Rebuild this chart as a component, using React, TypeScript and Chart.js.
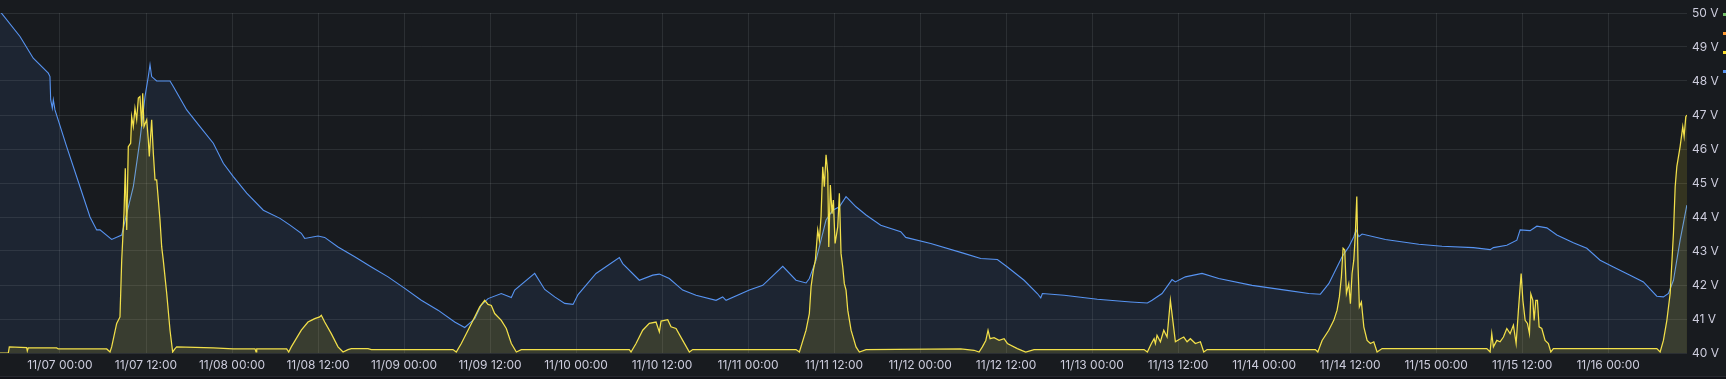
import React, { useEffect, useRef } from "react";
import { Chart, registerables } from "chart.js";

Chart.register(...registerables);

// Time in hours relative to 11/07 00:00
const X_MIN = -8.37;
const X_MAX = 227.0;
const Y_MIN = 40;
const Y_MAX = 50;

const TICK_HOURS = [0, 12, 24, 36, 48, 60, 72, 84, 96, 108, 120, 132, 144, 156, 168, 180, 192, 204, 216];
const TICK_LABELS = [
  "11/07 00:00", "11/07 12:00", "11/08 00:00", "11/08 12:00", "11/09 00:00", "11/09 12:00",
  "11/10 00:00", "11/10 12:00", "11/11 00:00", "11/11 12:00", "11/12 00:00", "11/12 12:00",
  "11/13 00:00", "11/13 12:00", "11/14 00:00", "11/14 12:00", "11/15 00:00", "11/15 12:00",
  "11/16 00:00",
];
const Y_TICKS = [40, 41, 42, 43, 44, 45, 46, 47, 48, 49, 50];

// Battery voltage (blue)
const BLUE_T = [
  -8.37, -5.58, -3.73, -1.63, -1.40, -1.30, -1.07, -0.93, -0.70, 0.93, 2.79, 4.19, 5.12, 5.58, 7.21, 8.61,
  9.31, 10.23, 11.16, 11.86, 12.32, 12.56, 12.79, 13.49, 15.35, 15.81, 17.68, 19.53, 21.39, 22.79, 24.18,
  26.05, 28.37, 30.70, 32.09, 33.67, 34.14, 36.0, 36.93, 38.79, 41.12, 43.44, 45.77, 48.10, 50.41, 52.74,
  55.07, 56.47, 57.17, 57.86, 58.78, 59.72, 61.57, 62.97, 63.44, 66.23, 67.63, 69.02, 70.42, 71.58, 72.28,
  74.79, 78.04, 78.51, 80.83, 82.70, 83.62, 85.01, 86.88, 88.74, 91.53, 92.46, 92.93, 96.18, 98.05, 100.84,
  102.69, 104.09, 104.55, 105.48, 106.88, 107.82, 108.74, 109.67, 111.06, 112.46, 114.51, 117.30, 118.0,
  121.49, 126.13, 128.46, 130.78, 132.18, 134.51, 136.36, 136.84, 137.06, 140.09, 144.73, 149.39, 151.71,
  152.37, 153.76, 155.15, 155.61, 157.01, 159.34, 161.67, 166.32, 170.96, 174.23, 175.85, 177.02, 178.88,
  179.81, 180.51, 180.83, 181.21, 181.67, 184.92, 189.58, 192.83, 197.20, 199.53, 199.99, 201.86, 203.26,
  203.72, 205.11, 206.05, 207.44, 208.84, 211.15, 213.02, 214.88, 216.73, 219.06, 220.92, 222.79, 223.71,
  224.41, 225.11, 226.04, 226.98,
];
const BLUE_V = [
  50.05, 49.31, 48.67, 48.23, 48.13, 47.45, 47.2, 47.45, 47.15, 46.07, 44.89, 44.0, 43.62, 43.62, 43.34, 43.47,
  44.1, 44.89, 46.27, 47.54, 48.13, 48.48, 48.13, 48.0, 48.0, 47.84, 47.15, 46.66, 46.17, 45.58, 45.19,
  44.7, 44.2, 43.96, 43.76, 43.52, 43.37, 43.44, 43.4, 43.12, 42.83, 42.53, 42.24, 41.9, 41.55, 41.26,
  40.91, 40.75, 40.88, 41.01, 41.41, 41.6, 41.75, 41.63, 41.85, 42.34, 41.87, 41.65, 41.46, 41.43, 41.72,
  42.34, 42.81, 42.63, 42.14, 42.29, 42.32, 42.19, 41.85, 41.7, 41.55, 41.65, 41.55, 41.85, 41.99, 42.55,
  42.14, 42.06, 42.19, 42.73, 43.91, 44.2, 44.3, 44.6, 44.3, 44.06, 43.76, 43.57, 43.4,
  43.22, 42.93, 42.78, 42.75, 42.53, 42.14, 41.75, 41.62, 41.75, 41.7, 41.58, 41.5, 41.47,
  41.55, 41.75, 42.16, 42.09, 42.24, 42.34, 42.19, 41.99, 41.85, 41.75, 41.73, 42.04, 42.83,
  43.12, 43.42, 43.62, 43.42, 43.5, 43.34, 43.2, 43.14, 43.1, 43.04, 43.1, 43.17, 43.32,
  43.62, 43.6, 43.73, 43.68, 43.47, 43.24, 43.08, 42.73, 42.53, 42.29, 42.09, 41.67, 41.65,
  41.75, 42.14, 43.32, 44.35,
];

// PV voltage (yellow)
const YELLOW_T = [
  -8.37, -7.21, -7.07, -4.65, -4.56, -4.42, -0.46, -0.24, 6.52, 6.98, 7.21, 7.91, 8.37, 8.61, 8.93, 9.11,
  9.31, 9.53, 9.86, 10.0, 10.23, 10.46, 10.70, 10.93, 11.16, 11.40, 11.54, 11.72, 12.10, 12.32, 12.46,
  12.79, 13.02, 13.26, 13.49, 13.95, 14.19, 14.41, 14.89, 15.35, 15.72, 16.05, 16.28, 21.39, 24.18, 27.21,
  27.35, 27.45, 31.63, 31.91, 32.27, 33.67, 34.60, 35.06, 35.54, 36.23, 36.46, 36.93, 37.85, 38.79, 39.49,
  40.18, 40.65, 42.98, 43.44, 54.83, 55.29, 55.99, 56.93, 57.86, 58.56, 59.26, 59.72, 60.18, 60.65, 61.57,
  62.27, 62.97, 63.67, 64.36, 79.43, 79.67, 80.37, 81.30, 82.22, 83.16, 83.62, 83.86, 84.79, 85.25, 85.95,
  86.88, 87.81, 88.28, 102.69, 103.16, 104.09, 104.55, 104.79, 105.11, 105.39, 105.72, 105.95, 106.18,
  106.42, 106.64, 106.88, 107.12, 107.26, 107.48, 107.72, 107.90, 108.14, 108.51, 108.74, 108.97, 109.21,
  109.43, 109.67, 109.91, 110.37, 111.06, 111.53, 112.46, 125.67, 127.53, 128.23, 128.69, 129.17, 129.48,
  129.76, 130.32, 131.02, 131.72, 132.18, 133.57, 134.74, 135.90, 151.25, 151.71, 152.27, 152.65, 152.83,
  153.06, 153.53, 154.0, 154.46, 154.92, 155.26, 155.62, 156.32, 156.79, 157.25, 157.71, 158.41, 159.11,
  159.58, 160.04, 175.15, 175.49, 176.09, 177.02, 177.72, 178.18, 178.50, 178.78, 179.02, 179.25, 179.48,
  179.81, 180.04, 180.27, 180.51, 180.73, 180.93, 181.11, 181.29, 181.57, 181.91, 182.37, 182.83, 183.30,
  183.76, 184.46, 199.07, 199.53, 199.76, 199.99, 200.47, 200.92, 201.39, 201.86, 202.32, 202.78, 203.16,
  203.48, 203.86, 204.10, 204.42, 204.74, 205.02, 205.21, 205.49, 205.67, 205.91, 206.13, 206.37, 206.74,
  207.20, 207.66, 208.0, 208.36, 222.79, 223.25, 223.71, 224.19, 224.65, 225.11, 225.35, 225.58, 226.04,
  226.41, 226.60, 226.83, 227.0,
];
const YELLOW_V = [
  40.0, 40.0, 40.18, 40.16, 40.06, 40.15, 40.15, 40.12, 40.12, 40.03, 40.18, 40.87, 41.06, 42.73, 44.1, 45.43,
  43.62, 46.07, 46.17, 46.95, 46.66, 47.2, 46.86, 47.5, 47.54, 46.66, 47.64, 46.66, 46.86, 46.27, 45.78,
  46.86, 45.88, 45.09, 45.09, 43.91, 43.12, 42.73, 41.75, 40.67, 40.03, 40.13, 40.18, 40.15, 40.12, 40.12,
  40.03, 40.12, 40.12, 40.03, 40.18, 40.67, 40.91, 40.96, 41.01, 41.06, 41.11, 40.91, 40.57, 40.18, 40.03,
  40.1, 40.13, 40.13, 40.1, 40.1, 40.03, 40.28, 40.67, 41.06, 41.36, 41.55, 41.43, 41.4, 41.16, 40.96,
  40.72, 40.28, 40.03, 40.1, 40.1, 40.03, 40.28, 40.67, 40.87, 40.91, 40.62, 40.94, 40.98, 40.77, 40.72,
  40.37, 40.03, 40.1, 40.1, 40.03, 40.67, 41.16, 41.95, 42.44, 42.73, 43.62, 43.32, 44.01,
  45.48, 44.89, 45.83, 45.29, 43.12, 44.94, 44.1, 44.5, 43.22, 43.71, 44.7, 42.93, 42.53,
  42.04, 41.85, 41.26, 40.67, 40.18, 40.03, 40.1, 40.12, 40.08, 40.03, 40.18, 40.37, 40.67,
  40.42, 40.45, 40.37, 40.42, 40.28, 40.13, 40.03, 40.1, 40.1, 40.03, 40.28, 40.42, 40.28,
  40.52, 40.33, 40.67, 40.47, 41.55, 40.96, 40.33, 40.42, 40.47, 40.33, 40.42, 40.28, 40.33,
  40.03, 40.1, 40.1, 40.03, 40.37, 40.67, 40.96, 41.26, 41.65, 42.24, 43.08, 43.03, 41.75,
  42.04, 41.45, 42.34, 42.73, 43.52, 44.6, 42.53, 41.36, 41.5, 40.77, 40.37, 40.28, 40.33,
  40.03, 40.13, 40.13, 40.03, 40.57, 40.18, 40.37, 40.33, 40.47, 40.72, 40.57, 40.82, 40.28,
  41.26, 42.34, 41.55, 40.96, 40.87, 40.57, 41.74, 41.55, 40.96, 41.55, 41.55, 40.77, 40.72,
  40.37, 40.28, 40.03, 40.13, 40.13, 40.03, 40.37, 40.96, 41.75, 43.52, 44.89, 45.48, 46.07,
  46.66, 46.37, 46.95, 47.0,
];

const BG = "#181b1f";
const TEXT = "rgb(204, 204, 220)";
const GRID = "rgba(240, 250, 255, 0.09)";
const LEGEND_COLORS = ["#73BF69", "#FF9830", "#FADE2A", "#5794F2"];

const toPoints = (t: number[], v: number[]) => t.map((x, i) => ({ x, y: v[i] }));

const legendStubs = {
  id: "legendStubs",
  afterDraw(chart: any) {
    const ctx = chart.ctx;
    const x = chart.chartArea.right + 36;
    ctx.save();
    LEGEND_COLORS.forEach((c, i) => {
      ctx.fillStyle = c;
      ctx.fillRect(x, 13 + i * 19, 12, 3);
    });
    ctx.restore();
  },
};

export default function App() {
  const ref = useRef<HTMLCanvasElement | null>(null);

  useEffect(() => {
    document.body.style.margin = "0";
    document.body.style.background = BG;
    const canvas = ref.current;
    if (!canvas) return;
    const chart = new Chart(canvas, {
      type: "line",
      data: {
        datasets: [
          {
            label: "PV",
            data: toPoints(YELLOW_T, YELLOW_V),
            borderColor: "#F2E04A",
            backgroundColor: "rgba(250, 222, 42, 0.13)",
            borderWidth: 1.25,
            pointRadius: 0,
            tension: 0,
            fill: "start",
          },
          {
            label: "Battery",
            data: toPoints(BLUE_T, BLUE_V),
            borderColor: "#5794F2",
            backgroundColor: "rgba(87, 148, 242, 0.09)",
            borderWidth: 1.1,
            pointRadius: 0,
            tension: 0,
            fill: "start",
          },
        ],
      },
      options: {
        animation: false,
        responsive: true,
        maintainAspectRatio: false,
        layout: { padding: { top: 13, left: 0, right: 0, bottom: 0 } },
        plugins: {
          legend: { display: false },
          tooltip: { enabled: false },
        },
        scales: {
          x: {
            type: "linear",
            min: X_MIN,
            max: X_MAX,
            afterBuildTicks: (axis: any) => {
              axis.ticks = TICK_HOURS.map((value) => ({ value }));
            },
            afterFit: (axis: any) => {
              axis.height = 23;
            },
            ticks: {
              autoSkip: false,
              maxRotation: 0,
              color: TEXT,
              font: { family: "Inter", size: 12 },
              padding: 5,
              callback: (_v: any, i: number) => TICK_LABELS[i],
            },
            grid: { color: GRID, drawTicks: false },
            border: { display: false },
          },
          y: {
            position: "right",
            min: Y_MIN,
            max: Y_MAX,
            afterBuildTicks: (axis: any) => {
              axis.ticks = Y_TICKS.map((value) => ({ value }));
            },
            afterFit: (axis: any) => {
              axis.width = 39;
            },
            ticks: {
              color: TEXT,
              font: { family: "Inter", size: 12 },
              padding: 5,
              callback: (v: any) => `${v} V`,
            },
            grid: { color: GRID, drawTicks: false },
            border: { display: false },
          },
        },
      },
      plugins: [legendStubs],
    });
    return () => chart.destroy();
  }, []);

  return (
    <div style={{ width: 1726, height: 379, background: BG }}>
      <div style={{ width: 1726, height: 376, position: "relative" }}>
        <canvas ref={ref} />
      </div>
      <div style={{ width: 1726, height: 2, borderTop: "1px solid rgba(204, 204, 220, 0.12)", background: "#111217" }} />
    </div>
  );
}
